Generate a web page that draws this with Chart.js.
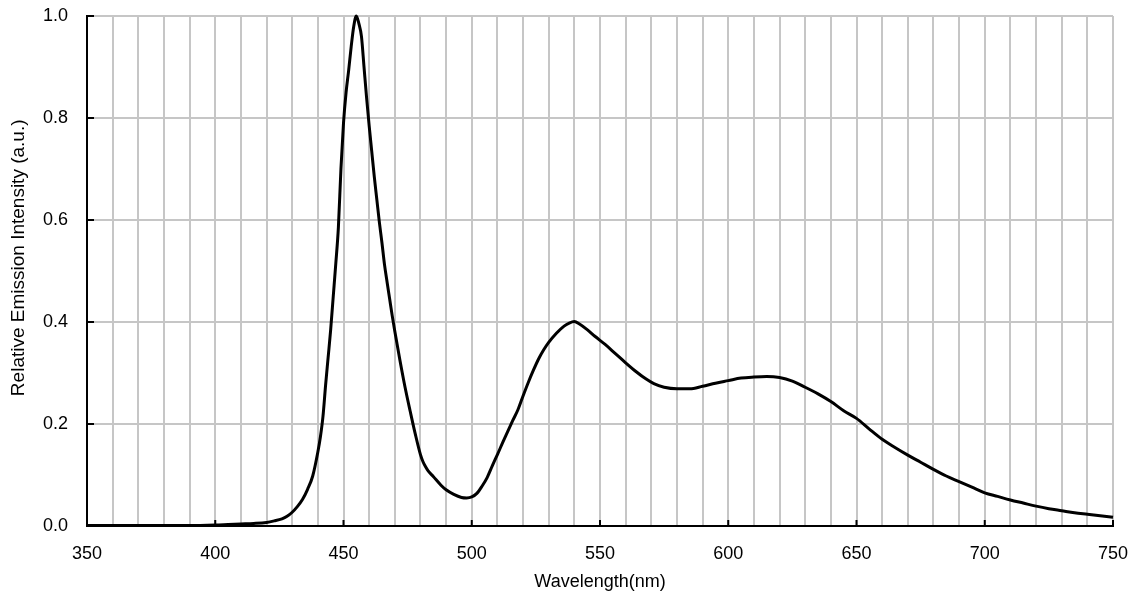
<!DOCTYPE html>
<html>
<head>
<meta charset="utf-8">
<script src="https://cdn.jsdelivr.net/npm/chart.js@4/dist/chart.umd.min.js"></script>
<style>
  html, body { margin: 0; padding: 0; background: #fff; }
  #wrap { width: 1133px; height: 599px; }
</style>
</head>
<body>
<div id="wrap"><canvas id="spectrum" width="1133" height="599"></canvas></div>
<script>
// emission spectrum (nm, a.u.)
const wavelengths = [
  350, 360, 370, 380, 390, 400, 405, 410, 415, 420, 423, 426, 428, 430, 432, 434, 436, 438, 440, 441,
  442, 443, 444, 445, 446, 447, 448, 449, 450, 451, 452, 453, 454, 455, 456, 457, 458, 459, 460, 461,
  462, 463, 464, 465, 466, 467, 468, 469, 470, 472, 474, 476, 478, 480, 481, 482, 483, 485, 488, 490, 493, 496,
  498, 500, 502, 504, 506, 508, 510, 512, 514, 516, 518, 520, 522, 524, 526, 528, 530, 533, 536, 538,
  540, 542, 545, 548, 552, 556, 560, 564, 568, 571, 575, 580, 585, 590, 595, 600, 605, 610, 615, 620,
  625, 630, 635, 640, 645, 650, 655, 660, 665, 670, 675, 680, 685, 690, 695, 700, 705, 710, 715, 720,
  725, 730, 735, 740, 745, 750
]
const intensity = [
  0.001, 0.001, 0.001, 0.001, 0.001, 0.002, 0.003, 0.004, 0.005, 0.007, 0.010, 0.014, 0.019, 0.027, 0.038, 0.052, 0.072, 0.098, 0.145, 0.175,
  0.215, 0.275, 0.330, 0.385, 0.450, 0.515, 0.585, 0.700, 0.790, 0.850, 0.893, 0.940, 0.980, 1.000, 0.985, 0.960, 0.900, 0.840, 0.785, 0.735,
  0.685, 0.640, 0.595, 0.555, 0.512, 0.478, 0.445, 0.412, 0.382, 0.325, 0.272, 0.225, 0.180, 0.140, 0.126, 0.116, 0.108, 0.097, 0.080, 0.071, 0.062, 0.056,
  0.055, 0.057, 0.064, 0.078, 0.095, 0.118, 0.140, 0.163, 0.185, 0.207, 0.228, 0.255, 0.281, 0.305, 0.327, 0.345, 0.360, 0.378, 0.392, 0.398,
  0.401, 0.396, 0.385, 0.372, 0.356, 0.338, 0.320, 0.303, 0.288, 0.279, 0.272, 0.269, 0.269, 0.274, 0.280, 0.285, 0.290, 0.292, 0.293, 0.291,
  0.284, 0.272, 0.259, 0.244, 0.226, 0.211, 0.190, 0.170, 0.154, 0.139, 0.125, 0.111, 0.098, 0.087, 0.076, 0.065, 0.058, 0.051, 0.045, 0.039,
  0.034, 0.030, 0.026, 0.023, 0.020, 0.017
]

const x_min = 350, x_max = 750, x_grid_step = 10, x_label_step = 50
const y_min = 0, y_max = 1, y_step = 0.2

const FONT = { family: '"Liberation Sans", Arial, sans-serif', size: 18 }
const GRID_COLOR = '#c6c6c6'

// short black tick marks pointing into the plot, as in the original
const inner_ticks = {
  id: 'inner_ticks',
  afterDatasetsDraw(chart) {
    const { ctx, chartArea, scales } = chart
    ctx.save()
    ctx.strokeStyle = '#000'
    ctx.lineWidth = 2
    ctx.beginPath()
    scales.x.ticks.forEach(t => {
      if (t.value % x_label_step !== 0) return
      const px = scales.x.getPixelForValue(t.value)
      ctx.moveTo(px, chartArea.bottom)
      ctx.lineTo(px, chartArea.bottom - 6)
    })
    scales.y.ticks.forEach(t => {
      const py = scales.y.getPixelForValue(t.value)
      ctx.moveTo(chartArea.left, py)
      ctx.lineTo(chartArea.left + 7, py)
    })
    ctx.stroke()
    ctx.restore()
  }
}

const points = wavelengths.map((w, i) => ({ x: w, y: intensity[i] }))

new Chart(document.getElementById('spectrum').getContext('2d'), {
  type: 'scatter',
  data: {
    datasets: [{
      data: points,
      showLine: true,
      borderColor: '#000',
      borderWidth: 3,
      pointRadius: 0,
      cubicInterpolationMode: 'monotone',
      clip: false
    }]
  },
  plugins: [inner_ticks],
  options: {
    responsive: false,
    animation: false,
    layout: { padding: { top: 16, right: 20, left: 0, bottom: 0 } },
    plugins: { legend: { display: false }, tooltip: { enabled: false } },
    scales: {
      x: {
        type: 'linear',
        min: x_min,
        max: x_max,
        afterFit: scale => {
          scale.height = 73
          scale.paddingLeft = 0
          scale.paddingRight = 0
        },
        ticks: {
          stepSize: x_grid_step,
          autoSkip: false,
          maxRotation: 0,
          color: '#000',
          font: FONT,
          padding: 17,
          callback: v => (v % x_label_step === 0 ? String(v) : '')
        },
        grid: { color: GRID_COLOR, lineWidth: 2, drawTicks: false },
        border: { display: true, color: '#000', width: 2 },
        title: {
          display: true,
          text: 'Wavelength(nm)',
          color: '#000',
          font: FONT,
          padding: { top: 0, bottom: 6 }
        }
      },
      y: {
        min: y_min,
        max: y_max,
        afterFit: scale => {
          scale.width = 87
          scale.paddingTop = 0
          scale.paddingBottom = 0
        },
        ticks: {
          stepSize: y_step,
          color: '#000',
          font: FONT,
          padding: 19,
          callback: v => v.toFixed(1)
        },
        grid: { color: GRID_COLOR, lineWidth: 2, drawTicks: false },
        border: { display: true, color: '#000', width: 2 },
        title: {
          display: true,
          // leading spaces nudge the label up a little, like the original
          text: '     Relative Emission Intensity (a.u.)',
          color: '#000',
          font: { family: FONT.family, size: 19 },
          padding: { top: 7, bottom: 0 }
        }
      }
    }
  }
})
</script>
</body>
</html>
